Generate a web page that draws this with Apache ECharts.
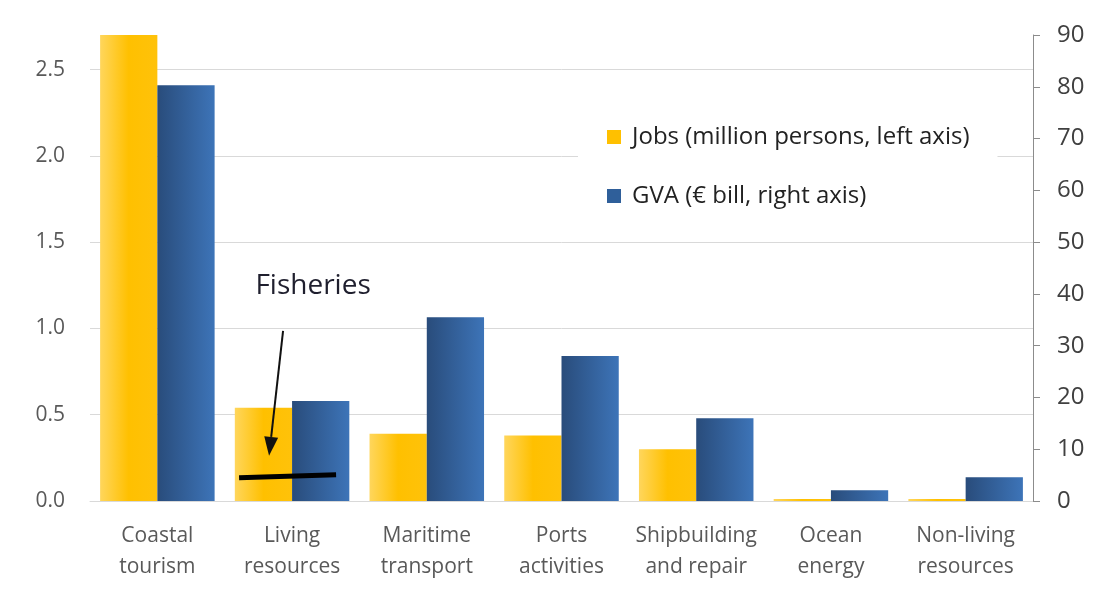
<!DOCTYPE html>
<html>
<head>
<meta charset="utf-8">
<script src="https://cdn.jsdelivr.net/npm/echarts@6/dist/echarts.min.js"></script>
<style>
html,body{margin:0;padding:0;background:#fff;}
#c{width:1109px;height:589px;}
</style>
</head>
<body>
<div id="c"></div>
<script>
const categories = ['Coastal\ntourism', 'Living\nresources', 'Maritime\ntransport', 'Ports\nactivities', 'Shipbuilding\nand repair', 'Ocean\nenergy', 'Non-living\nresources'];
const jobs = [2.70, 0.54, 0.39, 0.38, 0.30, 0.012, 0.012];
const gva = [80.3, 19.3, 35.5, 28.0, 16.0, 2.1, 4.6];
const seriesNames = ['Jobs (million persons, left axis)', 'GVA (€ bill, right axis)'];
const leftTicks = [0, 0.5, 1.0, 1.5, 2.0, 2.5];
const rightTicks = [0, 10, 20, 30, 40, 50, 60, 70, 80, 90];
const fisheriesLabel = 'Fisheries';
const fisheriesJobs = 0.14;
const fisheriesCategory = categories[1];

const FONT = '"Open Sans"';
const chart = echarts.init(document.getElementById('c'), null, {renderer: 'canvas'});

const yellowGrad = new echarts.graphic.LinearGradient(0, 0, 1, 0, [
  {offset: 0, color: '#FFD65C'}, {offset: 0.5, color: '#FFC000'}, {offset: 1, color: '#FFC20A'}
]);
const blueGrad = new echarts.graphic.LinearGradient(0, 0, 1, 0, [
  {offset: 0, color: '#294C7B'}, {offset: 1, color: '#3D74B8'}
]);

chart.setOption({
  animation: false,
  backgroundColor: '#fff',
  textStyle: {fontFamily: FONT},
  grid: {left: 90, right: 76, top: 35, bottom: 88},
  legend: {
    orient: 'vertical',
    left: 578, top: 95,
    padding: [30, 28, 17, 29],
    backgroundColor: '#fff',
    itemWidth: 14, itemHeight: 14, itemGap: 35,
    icon: 'rect',
    textStyle: {fontFamily: FONT, fontSize: 24, color: '#222', padding: [0, 0, 0, 6]},
    data: [
      {name: seriesNames[0], itemStyle: {color: '#FFC000'}},
      {name: seriesNames[1], itemStyle: {color: '#2F5F9A'}}
    ]
  },
  xAxis: {
    type: 'category',
    data: categories,
    axisLine: {show: true, lineStyle: {color: '#d9d9d9', width: 1}},
    axisTick: {show: false},
    axisLabel: {fontFamily: FONT, fontSize: 21, color: '#595959', lineHeight: 31, margin: 20, interval: 0}
  },
  yAxis: [
    {
      type: 'value', min: 0, max: 2.7, interval: 0.5, position: 'left',
      axisLine: {show: false}, axisTick: {show: false},
      axisLabel: {
        fontFamily: FONT, fontSize: 21, color: '#595959', margin: 25,
        formatter: function (v) { return Math.abs(v * 2 - Math.round(v * 2)) < 1e-6 && leftTicks.indexOf(Math.round(v * 10) / 10) >= 0 ? v.toFixed(1) : ''; }
      },
      splitLine: {show: true, lineStyle: {color: ['#d9d9d9', '#d9d9d9', '#d9d9d9', '#d9d9d9', '#d9d9d9', '#d9d9d9', 'rgba(0,0,0,0)'], width: 1}}
    },
    {
      type: 'value', min: 0, max: 90, interval: 10, position: 'right',
      axisLine: {show: true, lineStyle: {color: '#8c8c8c', width: 1}},
      axisTick: {show: true, inside: false, length: 7, lineStyle: {color: '#8c8c8c'}},
      axisLabel: {fontFamily: FONT, fontSize: 24, color: '#404040', margin: 24,
        formatter: function (v) { return rightTicks.indexOf(v) >= 0 ? String(v) : ''; }},
      splitLine: {show: false}
    }
  ],
  series: [
    {
      name: seriesNames[0], type: 'bar', yAxisIndex: 0, data: jobs,
      barGap: '0%', barCategoryGap: '15%',
      itemStyle: {color: yellowGrad}
    },
    {
      name: seriesNames[1], type: 'bar', yAxisIndex: 1, data: gva,
      barGap: '0%', barCategoryGap: '15%',
      itemStyle: {color: blueGrad}
    }
  ]
});

// Fisheries annotation, anchored to the data position of the fisheries value
const p = chart.convertToPixel({xAxisIndex: 0, yAxisIndex: 0}, [fisheriesCategory, fisheriesJobs]);
const cx = p[0], cy = p[1];
const tip = [cx - 23, cy - 21];
const start = [cx - 9, cy - 146];
const dx = tip[0] - start[0], dy = tip[1] - start[1];
const len = Math.sqrt(dx * dx + dy * dy);
const ux = dx / len, uy = dy / len;
const headLen = 19, headHalf = 7;
const bx = tip[0] - ux * headLen, by = tip[1] - uy * headLen;
const px = -uy, py = ux;
chart.setOption({
  graphic: [
    {type: 'line', z: 100, shape: {x1: cx - 53, y1: cy + 1, x2: cx + 44, y2: cy - 2},
      style: {stroke: '#000', lineWidth: 5, lineCap: 'butt'}},
    {type: 'line', z: 100, shape: {x1: start[0], y1: start[1], x2: bx, y2: by},
      style: {stroke: '#111', lineWidth: 2}},
    {type: 'polygon', z: 100, shape: {points: [tip, [bx + px * headHalf, by + py * headHalf], [bx - px * headHalf, by - py * headHalf]]},
      style: {fill: '#111'}},
    {type: 'text', z: 100, x: cx + 21, y: cy - 191,
      style: {text: fisheriesLabel, font: '28px "Open Sans"', fill: '#1f1f2e', align: 'center', verticalAlign: 'middle'}}
  ]
});
</script>
</body>
</html>
